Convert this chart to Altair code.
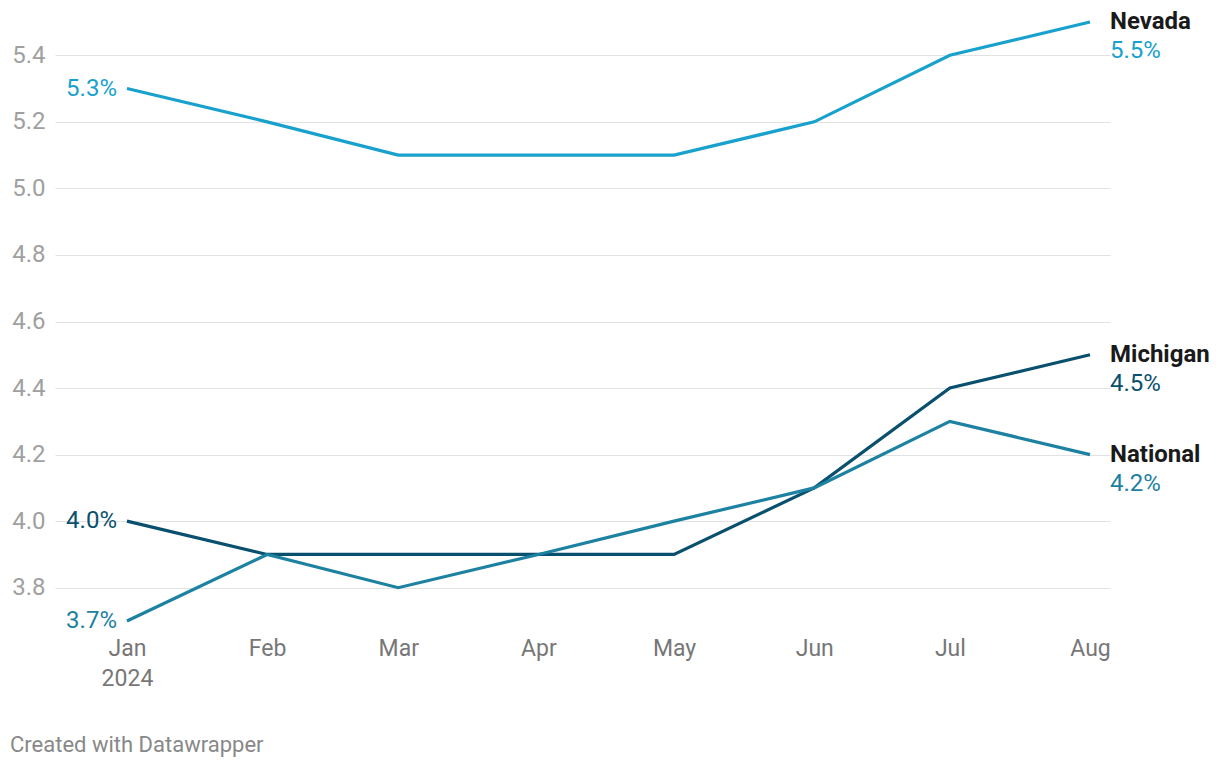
import altair as alt
import pandas as pd

months = ["2024-01-01", "2024-02-01", "2024-03-01", "2024-04-01",
          "2024-05-01", "2024-06-01", "2024-07-01", "2024-08-01"]
nevada = [5.3, 5.2, 5.1, 5.1, 5.1, 5.2, 5.4, 5.5]
michigan = [4.0, 3.9, 3.9, 3.9, 3.9, 4.1, 4.4, 4.5]
national = [3.7, 3.9, 3.8, 3.9, 4.0, 4.1, 4.3, 4.2]
series_names = ["Nevada", "Michigan", "National"]
line_colors = ["#18a1cd", "#09506e", "#1d81a2"]
text_colors = ["#1a8cb8", "#0b5075", "#1d81a2"]
y_ticks = [3.8, 4.0, 4.2, 4.4, 4.6, 4.8, 5.0, 5.2, 5.4]
x_domain = ["2023-12-16T02:00:00", "2024-08-05T10:00:00"]


def to_ms(s):
    return int(pd.Timestamp(s, tz="UTC").value // 10**6)


rows = []
for name, vals in zip(series_names, [nevada, michigan, national]):
    for d, v in zip(months, vals):
        rows.append({"ms": to_ms(d), "value": v, "series": name,
                     "label": f"{v:.1f}%"})
df = pd.DataFrame(rows)

tick_ms = [to_ms(m) for m in months]
dom_ms = [to_ms(s) for s in x_domain]

FONT = "Roboto"
x_enc = alt.X("ms:T", scale=alt.Scale(type="utc", domain=dom_ms, nice=False),
              axis=alt.Axis(values=tick_ms, grid=False, domain=False, ticks=False,
                            labelExpr="utcFormat(datum.value, '%m') == '01' ? ['Jan', '2024'] : utcFormat(datum.value, '%b')",
                            labelFont=FONT, labelFontSize=23, labelColor="#777777",
                            labelPadding=16, labelLineHeight=30, labelBaseline="top",
                            labelFlush=False, labelOverlap=False, title=None))
y_enc = alt.Y("value:Q", scale=alt.Scale(domain=[3.7, 5.5], nice=False, zero=False),
              axis=alt.Axis(values=y_ticks, grid=True, gridColor="#e2e2e2", gridWidth=1,
                            domain=False, ticks=False, labelFont=FONT, labelFontSize=24,
                            labelColor="#a0a0a0", labelPadding=10, labelFlush=False,
                            labelExpr="format(datum.value, '.1f')", title=None))
color_scale = alt.Scale(domain=series_names, range=line_colors)
text_scale = alt.Scale(domain=series_names, range=text_colors)

base = alt.Chart(df)
lines = base.mark_line(strokeWidth=3.2).encode(
    x=x_enc, y=y_enc,
    color=alt.Color("series:N", scale=color_scale, legend=None))

first = base.transform_filter(alt.datum.ms == tick_ms[0]).mark_text(
    align="right", baseline="middle", dx=-10, font=FONT, fontSize=24).encode(
    x="ms:T", y="value:Q", text="label:N",
    color=alt.Color("series:N", scale=text_scale, legend=None))

last_df = base.transform_filter(alt.datum.ms == tick_ms[-1])
end_name = last_df.mark_text(align="left", baseline="middle", dx=20, font=FONT,
                             fontSize=24, fontWeight="bold", color="#1a1a1a").encode(
    x="ms:T", y="value:Q", text="series:N")
end_val = last_df.mark_text(align="left", baseline="middle", dx=20, dy=29, font=FONT,
                            fontSize=24).encode(
    x="ms:T", y="value:Q", text="label:N",
    color=alt.Color("series:N", scale=text_scale, legend=None))

footer = alt.Chart(pd.DataFrame({"t": ["Created with Datawrapper"]})).mark_text(
    align="left", baseline="middle", font=FONT, fontSize=22, color="#888888").encode(
    x=alt.value(-45), y=alt.value(723), text="t:N")

chart = alt.layer(lines, first, end_name, end_val, footer).properties(
    width=1055, height=599,
    autosize=alt.AutoSizeParams(type="none"),
    padding={"left": 47, "top": 14, "right": 100, "bottom": 139},
).configure_view(stroke=None)

chart.save("out.html", embed_options={"renderer": "svg", "actions": False})
